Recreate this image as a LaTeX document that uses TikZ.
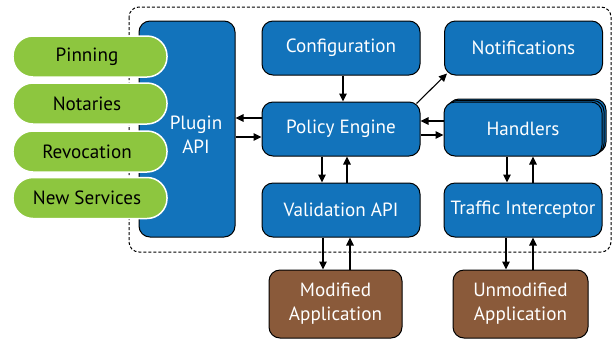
\documentclass[tikz,border=0pt]{standalone}
\usepackage{fontspec}
\setmainfont{PT Sans}
\usetikzlibrary{arrows.meta,calc}
\definecolor{bl}{HTML}{1273BB}
\definecolor{gr}{HTML}{8DC63F}
\definecolor{br}{HTML}{8A5A3A}
\begin{document}
\begin{tikzpicture}[x=1bp,y=-1bp,
  txt/.style={font=\fontsize{19.2}{24}\selectfont},
  bbox/.style={draw=black,line width=1bp,fill=bl,rounded corners=11bp,text=white,
    txt,inner sep=0pt,minimum width=158bp,minimum height=54bp,align=center},
  appbox/.style={bbox,fill=br,minimum height=68bp},
  pill/.style={draw=white,line width=1.5bp,fill=gr,rounded corners=20bp,text=black,
    txt,inner sep=0pt,minimum width=154bp,minimum height=41bp},
  arr/.style={line width=1.1bp,-{Triangle[length=8bp,width=7.5bp]}}]
\useasboundingbox (0,0) rectangle (612,341);
% dashed frame
\draw[line width=1bp,dash pattern=on 3bp off 2bp,rounded corners=10bp] (129,7) rectangle (611,252);
% plugin api
\node[bbox,minimum width=96bp,minimum height=216bp] (plug) at (187,129) {};
\node[txt,text=white,align=center,inner sep=0pt] (plugtxt) at (196,135) {Plugin\\API};
% pills
\node[pill] (pin) at (90,56.5) {\hspace*{-6bp}Pinning};
\node[pill] (nota) at (90,103.5) {\hspace*{-6bp}Notaries};
\node[pill] (rev) at (90,151.5) {\hspace*{-6bp}Revocation};
\node[pill] (news) at (90,198) {\hspace*{-6bp}New Services};
% boxes
\node[bbox] (conf) at (341,48) {Configuration};
\node[bbox] (noti) at (523.5,48) {Notifications};
\node[bbox] (pol) at (341,129) {Policy Engine};
\node[bbox] (hand3) at (527,126) {};
\node[bbox] (hand2) at (525,127.5) {};
\node[bbox] (hand) at (523,129) {Handlers};
\node[bbox] (val) at (341,210) {Validation API};
\node[bbox] (traf) at (523,210) {Traffic Interceptor};
\node[appbox,minimum width=133bp] (mod) at (335.5,304) {Modified\\Application};
\node[appbox,minimum width=135bp] (unmod) at (520.5,304) {Unmodified\\Application};
% helper coordinates
\coordinate (v1) at ([shift={(-18,0)}]val.south);
\coordinate (v2) at ([shift={(9,0)}]val.south);
\coordinate (t1) at ([shift={(-17,0)}]traf.south);
\coordinate (t2) at ([shift={(10,0)}]traf.south);
% arrows
\draw[arr] ([shift={(2,0)}]conf.south) -- ([shift={(2,0)}]pol.north);
\draw[arr] ([shift={(-4,2)}]pol.north east) -- ([shift={(3,-2)}]noti.south west);
\draw[arr] ([shift={(0,-8)}]hand.west) -- ([shift={(0,-8)}]pol.east);
\draw[arr] ([shift={(0,6)}]pol.east) -- ([shift={(0,6)}]hand.west);
\draw[arr] ([shift={(0,-11)}]pol.west) -- ([shift={(0,-11)}]plug.east);
\draw[arr] ([shift={(0,8)}]plug.east) -- ([shift={(0,8)}]pol.west);
\draw[arr] ([shift={(-19,0)}]pol.south) -- ([shift={(-19,0)}]val.north);
\draw[arr] ([shift={(6,0)}]val.north) -- ([shift={(6,0)}]pol.south);
\draw[arr] ([shift={(-16,0)}]hand.south) -- ([shift={(-16,0)}]traf.north);
\draw[arr] ([shift={(10,0)}]traf.north) -- ([shift={(10,0)}]hand.south);
\draw[arr] (v1) -- (v1 |- mod.north);
\draw[arr] (v2 |- mod.north) -- (v2);
\draw[arr] (t1) -- (t1 |- unmod.north);
\draw[arr] (t2 |- unmod.north) -- (t2);
\end{tikzpicture}
\end{document}
